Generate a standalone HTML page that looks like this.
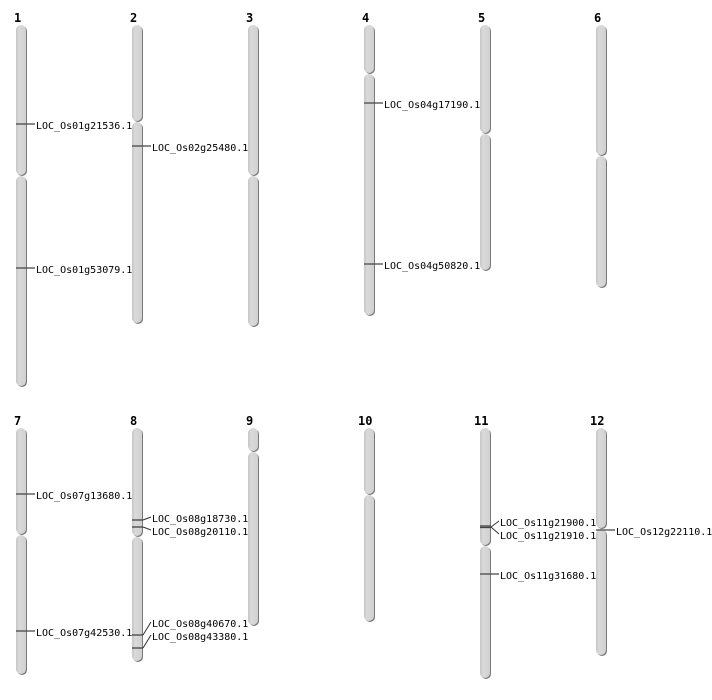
<!DOCTYPE html>
<html><head><meta charset="utf-8"><style>
html,body{margin:0;padding:0;background:#fff;}
svg{display:block;}
.n{font-family:"DejaVu Sans Mono","Liberation Mono",monospace;font-size:12px;font-weight:bold;fill:#000;}
.l{font-family:"DejaVu Sans Mono","Liberation Mono",monospace;font-size:10px;fill:#000;}
.s{fill:#7a7a7a;}
.c{fill:url(#g);}
.m{stroke:#444;stroke-width:1.3;}
.k{stroke:#333;stroke-width:1;fill:none;}
</style></head><body>
<svg width="712" height="700" viewBox="0 0 712 700" xmlns="http://www.w3.org/2000/svg">
<defs><linearGradient id="g" x1="0" x2="1" y1="0" y2="0">
<stop offset="0" stop-color="#c4c4c4"/><stop offset="0.3" stop-color="#dadada"/><stop offset="1" stop-color="#d0d0d0"/></linearGradient></defs>

<!-- numbers -->
<text class="n" x="14" y="22">1</text><text class="n" x="130" y="22">2</text><text class="n" x="246" y="22">3</text>
<text class="n" x="362" y="22">4</text><text class="n" x="478" y="22">5</text><text class="n" x="594" y="22">6</text>
<text class="n" x="14" y="425">7</text><text class="n" x="130" y="425">8</text><text class="n" x="246" y="425">9</text>
<text class="n" x="358" y="425">10</text><text class="n" x="474" y="425">11</text><text class="n" x="590" y="425">12</text>

<!-- chr1 -->
<rect class="s" x="17" y="26" width="10" height="150" rx="5"/><rect class="c" x="16" y="25" width="10" height="150" rx="5"/>
<rect class="s" x="17" y="177" width="10" height="210" rx="5"/><rect class="c" x="16" y="176" width="10" height="210" rx="5"/>
<!-- chr2 -->
<rect class="s" x="133" y="26" width="10" height="96" rx="5"/><rect class="c" x="132" y="25" width="10" height="96" rx="5"/>
<rect class="s" x="133" y="123" width="10" height="201" rx="5"/><rect class="c" x="132" y="122" width="10" height="201" rx="5"/>
<!-- chr3 -->
<rect class="s" x="249" y="26" width="10" height="150" rx="5"/><rect class="c" x="248" y="25" width="10" height="150" rx="5"/>
<rect class="s" x="249" y="177" width="10" height="150" rx="5"/><rect class="c" x="248" y="176" width="10" height="150" rx="5"/>
<!-- chr4 -->
<rect class="s" x="365" y="26" width="10" height="48" rx="5"/><rect class="c" x="364" y="25" width="10" height="48" rx="5"/>
<rect class="s" x="365" y="75" width="10" height="241" rx="5"/><rect class="c" x="364" y="74" width="10" height="241" rx="5"/>
<!-- chr5 -->
<rect class="s" x="481" y="26" width="10" height="108" rx="5"/><rect class="c" x="480" y="25" width="10" height="108" rx="5"/>
<rect class="s" x="481" y="135" width="10" height="136" rx="5"/><rect class="c" x="480" y="134" width="10" height="136" rx="5"/>
<!-- chr6 -->
<rect class="s" x="597" y="26" width="10" height="130" rx="5"/><rect class="c" x="596" y="25" width="10" height="130" rx="5"/>
<rect class="s" x="597" y="157" width="10" height="131" rx="5"/><rect class="c" x="596" y="156" width="10" height="131" rx="5"/>

<!-- chr7 -->
<rect class="s" x="17" y="429" width="10" height="106" rx="5"/><rect class="c" x="16" y="428" width="10" height="106" rx="5"/>
<rect class="s" x="17" y="536" width="10" height="139" rx="5"/><rect class="c" x="16" y="535" width="10" height="139" rx="5"/>
<!-- chr8 -->
<rect class="s" x="133" y="429" width="10" height="108" rx="5"/><rect class="c" x="132" y="428" width="10" height="108" rx="5"/>
<rect class="s" x="133" y="538" width="10" height="124" rx="5"/><rect class="c" x="132" y="537" width="10" height="124" rx="5"/>
<!-- chr9 -->
<rect class="s" x="249" y="429" width="10" height="23" rx="5"/><rect class="c" x="248" y="428" width="10" height="23" rx="5"/>
<rect class="s" x="249" y="453" width="10" height="173" rx="5"/><rect class="c" x="248" y="452" width="10" height="173" rx="5"/>
<!-- chr10 -->
<rect class="s" x="365" y="429" width="10" height="66" rx="5"/><rect class="c" x="364" y="428" width="10" height="66" rx="5"/>
<rect class="s" x="365" y="496" width="10" height="126" rx="5"/><rect class="c" x="364" y="495" width="10" height="126" rx="5"/>
<!-- chr11 -->
<rect class="s" x="481" y="429" width="10" height="117" rx="5"/><rect class="c" x="480" y="428" width="10" height="117" rx="5"/>
<rect class="s" x="481" y="547" width="10" height="132" rx="5"/><rect class="c" x="480" y="546" width="10" height="132" rx="5"/>
<!-- chr12 -->
<rect class="s" x="597" y="429" width="10" height="100" rx="5"/><rect class="c" x="596" y="428" width="10" height="100" rx="5"/>
<rect class="s" x="597" y="530" width="10" height="126" rx="5"/><rect class="c" x="596" y="529" width="10" height="126" rx="5"/>

<!-- markers -->
<line class="m" x1="16" y1="124" x2="35" y2="124"/><text class="l" x="36" y="129">LOC_Os01g21536.1</text>
<line class="m" x1="16" y1="268" x2="35" y2="268"/><text class="l" x="36" y="273">LOC_Os01g53079.1</text>
<line class="m" x1="132" y1="146" x2="151" y2="146"/><text class="l" x="152" y="151">LOC_Os02g25480.1</text>
<line class="m" x1="364" y1="103" x2="383" y2="103"/><text class="l" x="384" y="108">LOC_Os04g17190.1</text>
<line class="m" x1="364" y1="264" x2="383" y2="264"/><text class="l" x="384" y="269">LOC_Os04g50820.1</text>

<line class="m" x1="16" y1="494" x2="35" y2="494"/><text class="l" x="36" y="499">LOC_Os07g13680.1</text>
<line class="m" x1="16" y1="631" x2="35" y2="631"/><text class="l" x="36" y="636">LOC_Os07g42530.1</text>

<line class="m" x1="132" y1="520" x2="143" y2="520"/><line class="m" x1="132" y1="527" x2="143" y2="527"/>
<path class="k" d="M143 520 L151 517 M143 527 L151 530"/>
<text class="l" x="152" y="522">LOC_Os08g18730.1</text><text class="l" x="152" y="535">LOC_Os08g20110.1</text>
<line class="m" x1="132" y1="635" x2="143" y2="635"/><line class="m" x1="132" y1="648" x2="143" y2="648"/>
<path class="k" d="M143 635 L151 622 M143 648 L151 635"/>
<text class="l" x="152" y="627">LOC_Os08g40670.1</text><text class="l" x="152" y="640">LOC_Os08g43380.1</text>

<line class="m" x1="480" y1="526" x2="491" y2="526"/><line class="m" x1="480" y1="527.5" x2="491" y2="527.5"/>
<path class="k" d="M491 527 L499 521 M491 527 L499 534"/>
<text class="l" x="500" y="526">LOC_Os11g21900.1</text><text class="l" x="500" y="539">LOC_Os11g21910.1</text>
<line class="m" x1="480" y1="574" x2="499" y2="574"/><text class="l" x="500" y="579">LOC_Os11g31680.1</text>
<line class="m" x1="596" y1="530" x2="615" y2="530"/><text class="l" x="616" y="535">LOC_Os12g22110.1</text>
</svg>
</body></html>
